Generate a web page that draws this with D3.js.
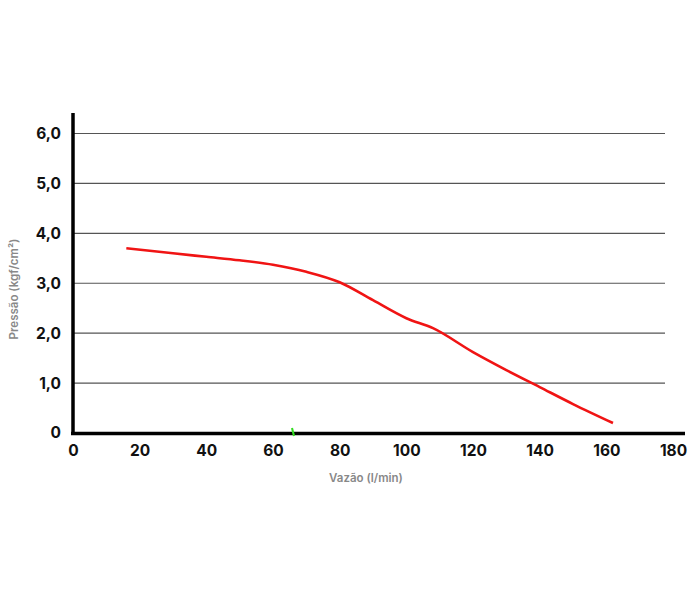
<!DOCTYPE html>
<html>
<head>
<meta charset="utf-8">
<script src="https://cdn.jsdelivr.net/npm/d3@7"></script>
<style>
  body { margin: 0; background: #fff; }
  .tick text { font-family: Inter, "Liberation Sans", sans-serif; font-weight: 700; font-size: 15.5px; fill: #111; }
  .axisTitle { font-family: Inter, "Liberation Sans", sans-serif; font-weight: 600; font-size: 11.5px; fill: #888; }
</style>
</head>
<body>
<div class="chart"></div>
<script>
// curve
var vazao = [16, 30, 40, 50, 60, 70, 80, 90, 100, 108, 120, 130, 140, 150, 162];
var pressao = [3.7, 3.6, 3.53, 3.46, 3.37, 3.23, 3.02, 2.66, 2.3, 2.1, 1.62, 1.26, 0.92, 0.58, 0.2];

var xTicks = [0, 20, 40, 60, 80, 100, 120, 140, 160, 180];
var yTicks = [0, 1, 2, 3, 4, 5, 6];
var yTickLabels = ["0", "1,0", "2,0", "3,0", "4,0", "5,0", "6,0"];

var marker = [66]; // small green mark on the x axis

var svgWidth = 696;
var svgHeight = 600;

var svg = d3.select(".chart")
  .append("svg")
  .attr("width", svgWidth)
  .attr("height", svgHeight);

var x = d3.scaleLinear()
  .domain([0, 180])
  .range([73, 673]);

var y = d3.scaleLinear()
  .domain([0, 6])
  .range([433, 133.5]);

// gridlines
svg.append("g")
  .selectAll("line")
  .data(yTicks.filter(d => d > 0))
  .enter()
  .append("line")
  .attr("x1", 73)
  .attr("x2", 665)
  .attr("y1", d => y(d))
  .attr("y2", d => y(d))
  .attr("stroke", "#555")
  .attr("stroke-width", 1.2);

// y axis
var leftAxis = d3.axisLeft(y)
  .tickValues(yTicks)
  .tickFormat((d, i) => yTickLabels[i])
  .tickSize(0)
  .tickPadding(12);

var gy = svg.append("g")
  .attr("transform", "translate(73,0)")
  .call(leftAxis);
gy.select(".domain").remove();

// x axis
var bottomAxis = d3.axisBottom(x)
  .tickValues(xTicks)
  .tickSize(0)
  .tickPadding(12);

var gx = svg.append("g")
  .attr("transform", "translate(0,433)")
  .call(bottomAxis);
gx.select(".domain").remove();

// heavy axis lines
svg.append("line")
  .attr("x1", 73).attr("x2", 73)
  .attr("y1", 113).attr("y2", 435)
  .attr("stroke", "#000")
  .attr("stroke-width", 3.5);

svg.append("line")
  .attr("x1", 71).attr("x2", 685)
  .attr("y1", 433.5).attr("y2", 433.5)
  .attr("stroke", "#000")
  .attr("stroke-width", 3.5);

// curve
var pts = vazao.map((v, i) => [v, pressao[i]]);
var line = d3.line()
  .x(d => x(d[0]))
  .y(d => y(d[1]))
  .curve(d3.curveMonotoneX);

svg.append("path")
  .datum(pts)
  .attr("d", line)
  .attr("fill", "none")
  .attr("stroke", "#f01414")
  .attr("stroke-width", 2.6);

svg.selectAll(".marker")
  .data(marker)
  .enter()
  .append("line")
  .attr("class", "marker")
  .attr("x1", d => x(d) - 1)
  .attr("x2", d => x(d) + 1)
  .attr("y1", 428)
  .attr("y2", 436)
  .attr("stroke", "#33dd22")
  .attr("stroke-width", 2);

// axis titles
svg.append("text")
  .attr("class", "axisTitle")
  .attr("transform", "translate(18,289) rotate(-90)")
  .attr("text-anchor", "middle")
  .text("Pressão (kgf/cm²)");

svg.append("text")
  .attr("class", "axisTitle")
  .attr("x", 366)
  .attr("y", 482)
  .attr("text-anchor", "middle")
  .text("Vazão (l/min)");
</script>
</body>
</html>
